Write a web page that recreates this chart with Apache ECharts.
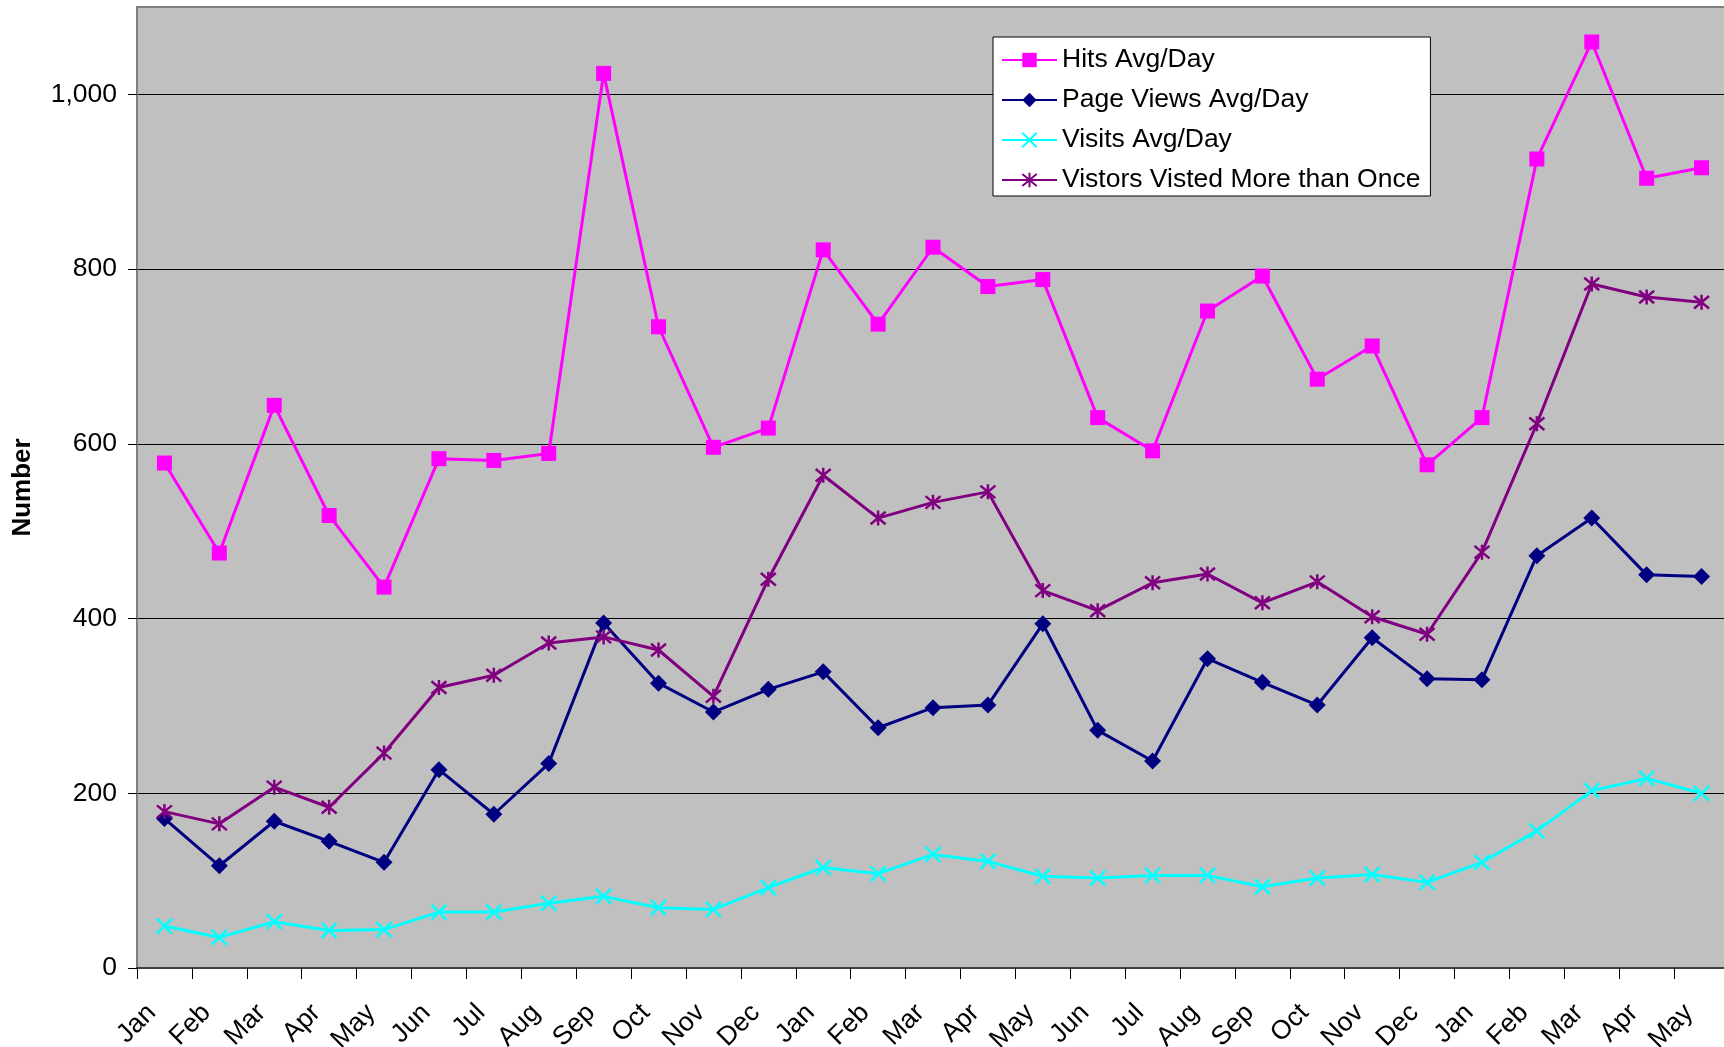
<!DOCTYPE html>
<html>
<head>
<meta charset="utf-8">
<script src="https://cdn.jsdelivr.net/npm/echarts@6/dist/echarts.min.js"></script>
<style>
  html, body { margin: 0; padding: 0; background: #fff; }
  #chart { width: 1724px; height: 1047px; }
</style>
</head>
<body>
<div id="chart"></div>
<script>
// months, Jan of first year through May of the third
const months = ['Jan','Feb','Mar','Apr','May','Jun','Jul','Aug','Sep','Oct','Nov','Dec',
                'Jan','Feb','Mar','Apr','May','Jun','Jul','Aug','Sep','Oct','Nov','Dec',
                'Jan','Feb','Mar','Apr','May'];

const hits = [578, 475, 644, 518, 436, 583, 581, 589, 1024, 734, 596, 618,
              822, 737, 825, 780, 788, 630, 592, 752, 792, 674, 712, 576,
              630, 926, 1060, 904, 916];

const pageViews = [171, 117, 168, 145, 121, 227, 176, 234, 395, 326, 293, 319,
                   339, 275, 298, 301, 394, 272, 237, 354, 327, 301, 378, 331,
                   330, 472, 515, 450, 448];

const visits = [48, 35, 53, 43, 44, 64, 64, 74, 82, 69, 67, 92,
                115, 108, 130, 122, 105, 103, 106, 106, 93, 103, 107, 98,
                121, 157, 203, 217, 200];

const repeatVisitors = [179, 165, 207, 184, 246, 321, 335, 372, 379, 364, 311, 445,
                        564, 515, 533, 545, 432, 409, 441, 451, 418, 442, 402, 382,
                        476, 623, 783, 768, 762];

const FONT = '"Liberation Sans", Arial, sans-serif';

const crossPath = 'path://M0,0L10,10M10,0L0,10';
const starPath = 'path://M0,0L10,10M10,0L0,10M5,-1L5,11';

function lineSeries(name, data, color, symbol, size, stroked) {
    return {
        name: name,
        type: 'line',
        data: data,
        symbol: symbol,
        symbolSize: size,
        showAllSymbol: true,
        animation: false,
        lineStyle: { color: color, width: 3 },
        itemStyle: stroked
            ? { color: 'none', borderColor: color, borderWidth: 2.5 }
            : { color: color, borderWidth: 0 },
        emphasis: { disabled: true }
    };
}

const chart = echarts.init(document.getElementById('chart'));
chart.setOption({
    backgroundColor: '#ffffff',
    textStyle: { fontFamily: FONT },
    grid: {
        left: 137, top: 7, right: -5, bottom: 79,
        show: true,
        backgroundColor: '#c0c0c0',
        borderColor: '#808080',
        borderWidth: 2,
        outerBoundsMode: 'none'
    },
    legend: {
        orient: 'vertical',
        left: 993, top: 37,
        backgroundColor: '#ffffff',
        borderColor: '#000000',
        borderWidth: 1,
        borderRadius: 0,
        padding: [8, 10, 1, 8],
        itemWidth: 55,
        itemHeight: 18,
        itemGap: 10,
        textStyle: { fontSize: 26.5, color: '#000', fontFamily: FONT, lineHeight: 30 },
        data: ['Hits Avg/Day', 'Page Views Avg/Day', 'Visits Avg/Day', 'Vistors Visted More than Once']
    },
    xAxis: {
        type: 'category',
        data: months,
        boundaryGap: true,
        axisLine: { show: true, lineStyle: { color: '#404040', width: 2 } },
        axisTick: { show: true, alignWithLabel: false, length: 11, lineStyle: { color: '#000' } },
        axisLabel: {
            interval: 0, rotate: 45, fontSize: 26.5, color: '#000', margin: 28,
            padding: [0, 18, 0, 0], fontFamily: FONT
        },
        splitLine: { show: false }
    },
    yAxis: {
        type: 'value',
        min: 0, max: 1100, interval: 200,
        name: 'Number',
        nameLocation: 'middle',
        nameRotate: 90,
        nameGap: 101,
        nameTextStyle: { fontSize: 26, fontWeight: 'bold', color: '#000', fontFamily: FONT },
        axisLine: { show: true, lineStyle: { color: '#808080', width: 2 } },
        axisTick: { show: true, length: 9, lineStyle: { color: '#000' } },
        axisLabel: {
            fontSize: 26.5, color: '#000', margin: 20, fontFamily: FONT,
            showMaxLabel: false,
            formatter: function (v) { return v === 1100 ? '' : v.toLocaleString('en-US'); }
        },
        splitLine: { show: true, showMaxLine: false, lineStyle: { color: '#000', width: 1 } }
    },
    series: [
        lineSeries('Hits Avg/Day', hits, '#ff00ff', 'rect', 15, false),
        lineSeries('Page Views Avg/Day', pageViews, '#000080', 'diamond', 17, false),
        lineSeries('Visits Avg/Day', visits, '#00ffff', crossPath, 15, true),
        lineSeries('Vistors Visted More than Once', repeatVisitors, '#800080', starPath, 15, true)
    ]
});
</script>
</body>
</html>
